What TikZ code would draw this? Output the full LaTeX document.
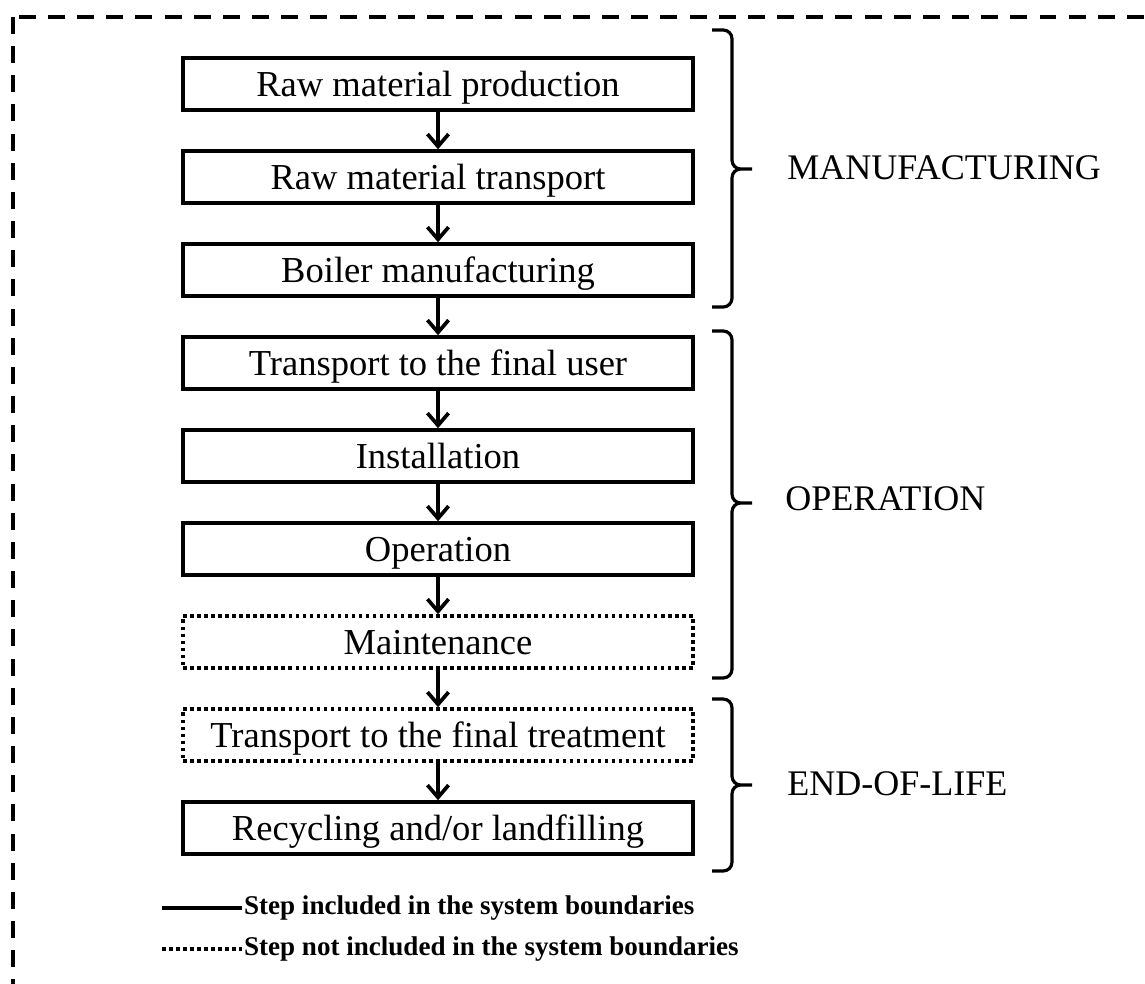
\documentclass[tikz,border=0pt]{standalone}
\usepackage{fontspec}
\setmainfont{Liberation Serif}
\usetikzlibrary{arrows.meta}
\tikzset{
  stepbox/.style = {draw, line width=2pt, minimum width=10.2cm, minimum height=1.04cm, inner sep=0pt, text height=13.8pt, text depth=0pt, font=\fontsize{20.8}{24}\selectfont},
  outbox/.style = {stepbox, dash pattern=on 2pt off 2pt},
  flow/.style = {line width=2.1pt, -{Straight Barb[length=7pt,width=12pt,line width=2.1pt]}},
  phase/.style = {anchor=west, inner sep=0pt, font=\fontsize{20.5}{24}\selectfont},
  brace/.style = {line width=1.8pt, rounded corners=5pt},
  legend/.style = {anchor=west, inner sep=1pt, font=\bfseries\fontsize{15.4}{18}\selectfont},
}
\newcommand\phasebrace[3]{%
  \draw[brace] (712,#1) -- (732,#1) -- (732,#2) -- (752,#2) (752,#2) -- (732,#2) -- (732,#3) -- (712,#3);}

\begin{document}
\begin{tikzpicture}[x=0.02cm, y=-0.02cm]
			\useasboundingbox (0,0) rectangle (1145,983);
			\draw[line width=2pt, dash pattern=on 9.6pt off 7pt] (13,17) rectangle (1175,1010);
			% life cycle steps
			\node (rmp) at (438,84) [stepbox] {Raw material production};
			\node (rmt) at (438,177) [stepbox] {Raw material transport};
			\node (bm) at (438,270) [stepbox] {Boiler manufacturing};
			\node (tfu) at (438,363) [stepbox] {Transport to the final user};
			\node (ins) at (438,456) [stepbox] {Installation};
			\node (op) at (438,549) [stepbox] {Operation};
			\node (mnt) at (438,642) [outbox] {Maintenance};
			\node (tft) at (438,735) [outbox] {Transport to the final treatment};
			\node (rl) at (438,828) [stepbox] {Recycling and/or landfilling};
			\draw[flow] (rmp) -- (rmt);
			\draw[flow] (rmt) -- (bm);
			\draw[flow] (bm) -- (tfu);
			\draw[flow] (tfu) -- (ins);
			\draw[flow] (ins) -- (op);
			\draw[flow] (op) -- (mnt);
			\draw[flow] (mnt) -- (tft);
			\draw[flow] (tft) -- (rl);
			% phases
			\phasebrace{30}{169}{307}
			\phasebrace{331}{503}{678}
			\phasebrace{699}{785}{871}
			\node (manu) at (787,168) [phase] {MANUFACTURING};
			\node (oper) at (785,499) [phase] {OPERATION};
			\node (eol) at (787,784) [phase] {END-OF-LIFE};
			% legend
			\coordinate (ls) at (162,908);
			\coordinate (ld) at (162,949);
			\node (inc) at (242,908) [legend] {Step included in the system boundaries};
			\node (exc) at (242,949) [legend] {Step not included in the system boundaries};
			\draw[line width=1.8pt] (ls) -- (inc.west);
			\draw[line width=1.8pt, dash pattern=on 2pt off 2pt] (ld) -- (exc.west);
\end{tikzpicture}
\end{document}
